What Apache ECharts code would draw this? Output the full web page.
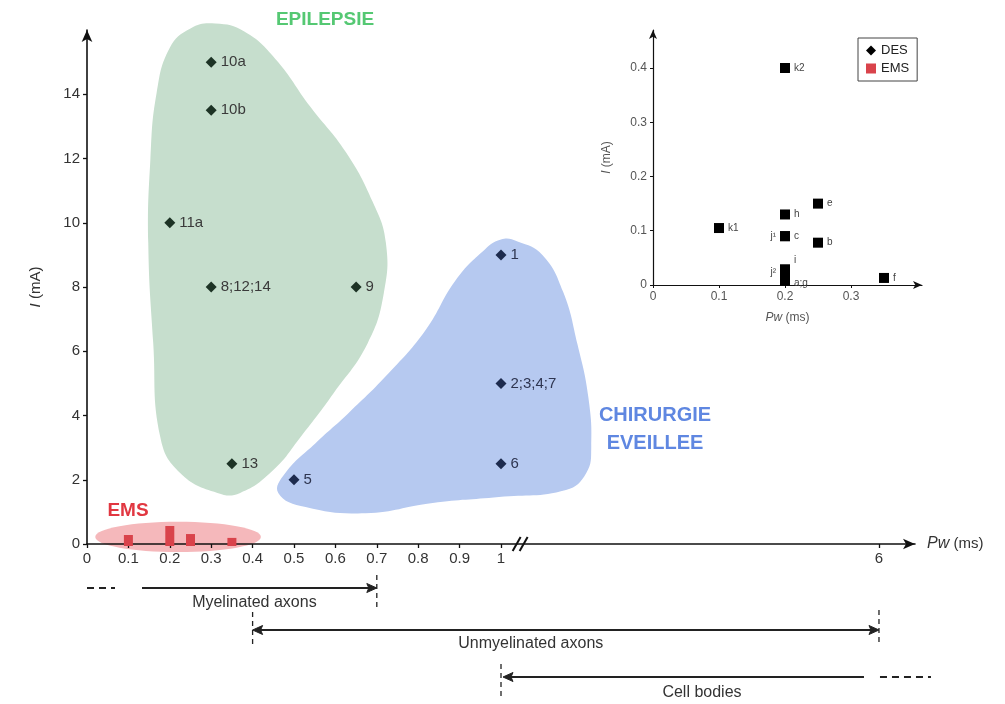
<!DOCTYPE html>
<html>
<head>
<meta charset="utf-8">
<script src="https://cdn.jsdelivr.net/npm/echarts@6/dist/echarts.min.js"></script>
<style>
  html, body { margin: 0; background: #fff; }
  #main { width: 1005px; height: 704px; }
</style>
</head>
<body>
<div id="main"></div>
<script>
// --- Data ---

// main plot: Pw (ms) vs I (mA)
const epiNames = ['10a', '10b', '11a', '8;12;14', '9', '13'];
const epiPw = [0.3, 0.3, 0.2, 0.3, 0.65, 0.35];
const epiI = [15, 13.5, 10, 8, 8, 2.5];

const chirNames = ['1', '2;3;4;7', '6', '5'];
const chirPw = [1, 1, 1, 0.5];
const chirI = [9, 5, 2.5, 2];

const emsPw = [0.1, 0.2, 0.25, 0.35];
const emsI = [0.28, 0.56, 0.31, 0.19];

const xTicks = [0, 0.1, 0.2, 0.3, 0.4, 0.5, 0.6, 0.7, 0.8, 0.9, 1, 6];
const yTicks = [0, 2, 4, 6, 8, 10, 12, 14];

// region outlines, [axis x, I] (axis x is Pw up to 1, compressed after the break)
const epiOutline = [[0.31, 16.2], [0.38, 15.95], [0.455, 15.1], [0.54, 13.6], [0.625, 12.2],
  [0.69, 10.65], [0.722, 9.37], [0.717, 7.81], [0.678, 6.25], [0.596, 4.7], [0.516, 3.33],
  [0.45, 2.3], [0.37, 1.59], [0.315, 1.59], [0.225, 2.21], [0.177, 3.33], [0.16, 6.25],
  [0.148, 9.37], [0.153, 11.95], [0.168, 14.03], [0.2, 15.45], [0.25, 16.05]];
const chirOutline = [[1.04, 9.42], [1.1, 9.0], [1.15, 7.85], [1.185, 6.2], [1.211, 4.57],
  [1.218, 3.02], [1.206, 2.21], [1.157, 1.68], [0.995, 1.46], [0.835, 1.28], [0.673, 0.96],
  [0.528, 1.15], [0.462, 1.59], [0.479, 2.21], [0.552, 3.14], [0.632, 4.08], [0.729, 5.32],
  [0.818, 6.66], [0.89, 8.2], [0.955, 9.1], [1.0, 9.48]];
const emsArea = [0.22, 0.22, 0.2, 0.47]; // centre x, centre I, half width, half height

// ranges under the axis
const rangeNames = ['Myelinated axons', 'Unmyelinated axons', 'Cell bodies'];
const rangeFrom = [0, 0.4, 1];
const rangeTo = [0.7, 6, 6];

// inset
const insetNames = ['k2', 'k1', 'h', 'e', 'c', 'j¹', 'b', 'f', 'i', 'j²', 'a;g'];
const insetPw = [0.2, 0.1, 0.2, 0.25, 0.2, 0.2, 0.25, 0.35, 0.2, 0.2, 0.2];
const insetI = [0.4, 0.105, 0.13, 0.15, 0.09, 0.09, 0.078, 0.013, 0.029, 0.019, 0.008];
const insetXTicks = [0, 0.1, 0.2, 0.3];
const insetYTicks = [0, 0.1, 0.2, 0.3, 0.4];

// --- Scale helpers (broken x axis: 1 -> 6 ms squeezed) ---

const BREAK_SCALE = 0.913 / 5;
const toAxis = pw => pw <= 1 ? pw : 1 + (pw - 1) * BREAK_SCALE;
const fromAxis = v => v <= 1.0001 ? v : 1 + (v - 1) / BREAK_SCALE;
const breakAt = 1.045;

const FONT = '"Liberation Sans", Arial, sans-serif';
const INK = '#222';

// --- Render helpers ---

function blobSeries(outline, fill) {
    return {
        type: 'custom', silent: true, z: 1, clip: false,
        data: [[outline[0][0], outline[0][1]]],
        renderItem: (params, api) => ({
            type: 'polygon',
            shape: { points: outline.map(p => api.coord(p)), smooth: 0.45 },
            style: { fill },
        }),
    };
}

function hline(xa, xb, y, dashed) {
    return { type: 'line', shape: { x1: xa, y1: y, x2: xb, y2: y },
        style: { stroke: INK, lineWidth: 2, lineDash: dashed ? [7, 5] : null } };
}
function vmark(x, ya, yb) {
    return { type: 'line', shape: { x1: x, y1: ya, x2: x, y2: yb },
        style: { stroke: INK, lineWidth: 1.3, lineDash: [5, 4] } };
}
function head(x, y, dir) {
    return { type: 'polygon', shape: { points: [[x, y], [x - 10 * dir, y - 4.5], [x - 8 * dir, y], [x - 10 * dir, y + 4.5]] },
        style: { fill: INK, stroke: INK, lineWidth: 1 } };
}
function label(text, x, y) {
    return { type: 'text', style: { text, x, y, align: 'center', verticalAlign: 'middle',
        fontSize: 16, fontFamily: FONT, fill: '#333' } };
}

// pixel offsets below the axis for each range row
const rowLine = [44, 86, 133];
const rowText = [59, 100, 149];
const rowLabelShift = [-5, -35, 12];

function renderRange(params, api) {
    const i = params.dataIndex;
    const [x0, y0] = api.coord([toAxis(rangeFrom[i]), 0]);
    const [x1] = api.coord([toAxis(rangeTo[i]), 0]);
    const y = y0 + rowLine[i];
    const kids = [];
    if (i === 0) {
        kids.push(hline(x0, x0 + 28, y, true), hline(x0 + 55, x1 - 6, y), head(x1, y, 1),
            vmark(x1, y - 13, y + 19));
    } else if (i === 1) {
        kids.push(hline(x0 + 6, x1 - 6, y), head(x0, y, -1), head(x1, y, 1),
            vmark(x0, y - 18, y + 15), vmark(x1, y - 20, y + 13));
    } else {
        kids.push(hline(x0 + 8, x1 - 15, y), head(x0 + 2, y, -1), hline(x1 + 1, x1 + 52, y, true),
            vmark(x0, y - 13, y + 19));
    }
    const xs = i === 0 ? x0 + 55 : x0;
    kids.push(label(rangeNames[i], (xs + x1) / 2 + rowLabelShift[i], y0 + rowText[i]));
    return { type: 'group', children: kids };
}

const chart = echarts.init(document.getElementById('main'), null, { renderer: 'canvas' });

const axisLineStyle = { color: '#111', width: 1.6 };
const insetLabelPos = {
    'j¹': { position: 'left' },
    'j²': { position: 'left', offset: [0, -2] },
    'i': { offset: [0, -9] },
    'a;g': { offset: [0, 3] },
};

chart.setOption({
    animation: false,
    textStyle: { fontFamily: FONT },
    grid: [
        { left: 87, top: 30, right: 90, bottom: 160 },
        { left: 653, top: 30, right: 83, bottom: 419 },
    ],
    xAxis: [{
        type: 'value', min: 0, max: 2, z: 3,
        splitLine: { show: false },
        axisLine: { onZero: false, symbol: ['none', 'arrow'], symbolSize: [8, 12], lineStyle: axisLineStyle },
        axisTick: { customValues: xTicks.map(toAxis), length: 4, lineStyle: { color: '#111', width: 1.3 } },
        axisLabel: {
            customValues: xTicks.map(toAxis), fontSize: 15, color: '#333', margin: 7,
            formatter: v => String(+fromAxis(v).toFixed(1)),
        },
        name: '{it|Pw} (ms)', nameLocation: 'end', nameGap: 12,
        nameTextStyle: { fontSize: 15, color: '#333', rich: { it: { fontStyle: 'italic', fontSize: 16, color: '#333' } } },
    }, {
        type: 'value', gridIndex: 1, min: 0, max: 0.4076, z: 3,
        splitLine: { show: false },
        axisLine: { onZero: false, symbol: ['none', 'arrow'], symbolSize: [6, 9], lineStyle: { color: '#111', width: 1.2 } },
        axisTick: { customValues: insetXTicks, length: 3, lineStyle: { color: '#111' } },
        axisLabel: { customValues: insetXTicks, fontSize: 12, color: '#555', margin: 6 },
        name: '{it|Pw} (ms)', nameLocation: 'middle', nameGap: 27,
        nameTextStyle: { fontSize: 12, color: '#555', rich: { it: { fontStyle: 'italic', fontSize: 12, color: '#555' } } },
    }],
    yAxis: [{
        type: 'value', min: 0, max: 16, z: 3,
        splitLine: { show: false },
        axisLine: { onZero: false, symbol: ['none', 'arrow'], symbolSize: [8, 12], lineStyle: axisLineStyle },
        axisTick: { customValues: yTicks, length: 4, lineStyle: { color: '#111', width: 1.3 } },
        axisLabel: { customValues: yTicks, fontSize: 15, color: '#333', margin: 7 },
        name: '{it|I} (mA)', nameLocation: 'middle', nameGap: 44, nameRotate: 90,
        nameTextStyle: { fontSize: 15, color: '#333', rich: { it: { fontStyle: 'italic', fontSize: 15, color: '#333' } } },
    }, {
        type: 'value', gridIndex: 1, min: 0, max: 0.47, z: 3,
        splitLine: { show: false },
        axisLine: { onZero: false, symbol: ['none', 'arrow'], symbolSize: [6, 9], lineStyle: { color: '#111', width: 1.2 } },
        axisTick: { customValues: insetYTicks, length: 3, lineStyle: { color: '#111' } },
        axisLabel: { customValues: insetYTicks, fontSize: 12, color: '#555', margin: 6 },
        name: '{it|I} (mA)', nameLocation: 'middle', nameGap: 40, nameRotate: 90,
        nameTextStyle: { fontSize: 12, color: '#555', rich: { it: { fontStyle: 'italic', fontSize: 12, color: '#555' } } },
    }],
    legend: {
        orient: 'vertical', left: 858, top: 38, selectedMode: false,
        borderColor: '#444', borderWidth: 1, borderRadius: 0, padding: [6, 8, 6, 8],
        itemGap: 5, itemWidth: 10, itemHeight: 10,
        textStyle: { fontSize: 13, color: '#222' },
        data: [
            { name: 'DES', icon: 'diamond', itemStyle: { color: '#000' } },
            { name: 'EMS', icon: 'rect', itemStyle: { color: '#d9434b' } },
        ],
    },
    graphic: [
        { type: 'text', x: 325, y: 20, z: 10, style: { text: 'EPILEPSIE', fill: '#55c873',
            font: `bold 19px ${FONT}`, textAlign: 'center', textVerticalAlign: 'middle' } },
        { type: 'text', x: 655, y: 415, z: 10, style: { text: 'CHIRURGIE', fill: '#5f87e1',
            font: `bold 20px ${FONT}`, textAlign: 'center', textVerticalAlign: 'middle' } },
        { type: 'text', x: 655, y: 443, z: 10, style: { text: 'EVEILLEE', fill: '#5f87e1',
            font: `bold 20px ${FONT}`, textAlign: 'center', textVerticalAlign: 'middle' } },
        { type: 'text', x: 128, y: 511, z: 10, style: { text: 'EMS', fill: '#e13741',
            font: `bold 19px ${FONT}`, textAlign: 'center', textVerticalAlign: 'middle' } },
    ],
    series: [
        blobSeries(epiOutline, '#c6decd'),
        blobSeries(chirOutline, '#b6c9f0'),
        {
            type: 'custom', silent: true, z: 1, clip: false,
            data: [[emsArea[0], emsArea[1]]],
            renderItem: (params, api) => {
                const [cx, cy] = api.coord([emsArea[0], emsArea[1]]);
                const [rx, ry] = api.size([emsArea[2], emsArea[3]]);
                return { type: 'ellipse', shape: { cx, cy, rx, ry }, style: { fill: '#f5b8bb' } };
            },
        },
        {
            name: 'DES', type: 'scatter', z: 5, symbol: 'diamond', symbolSize: 11,
            itemStyle: { color: '#1d3325', opacity: 1 },
            label: { show: true, position: 'right', distance: 4, formatter: '{b}', fontSize: 15, color: '#3a3a3a' },
            data: epiNames.map((n, i) => ({ name: n, value: [toAxis(epiPw[i]), epiI[i]] })),
        },
        {
            name: 'DES-chir', type: 'scatter', z: 5, symbol: 'diamond', symbolSize: 11,
            itemStyle: { color: '#1d2b4e', opacity: 1 },
            label: { show: true, position: 'right', distance: 4, formatter: '{b}', fontSize: 15, color: '#2e3550' },
            data: chirNames.map((n, i) => ({ name: n, value: [toAxis(chirPw[i]), chirI[i]] })),
        },
        {
            name: 'EMS', type: 'custom', z: 5, clip: false, itemStyle: { color: '#d9434b' },
            data: emsPw.map((p, i) => [toAxis(p), emsI[i]]),
            renderItem: (params, api) => {
                const top = api.coord([api.value(0), api.value(1)]);
                const bot = api.coord([api.value(0), 0]);
                return { type: 'rect', shape: { x: top[0] - 4.5, y: top[1], width: 9, height: bot[1] - top[1] + 2 },
                    style: { fill: '#d9434b' } };
            },
        },
        {
            type: 'custom', silent: true, z: 5, clip: false,
            data: rangeNames.map((n, i) => [toAxis(rangeFrom[i]), 0]),
            renderItem: renderRange,
        },
        {
            type: 'custom', silent: true, z: 6, clip: false,
            data: [[breakAt, 0]],
            renderItem: (params, api) => {
                const [x, y] = api.coord([breakAt, 0]);
                const slash = dx => ({ type: 'line', shape: { x1: x + dx - 4, y1: y + 7, x2: x + dx + 4, y2: y - 7 },
                    style: { stroke: '#111', lineWidth: 2 } });
                return { type: 'group', children: [slash(-3), slash(4)] };
            },
        },
        {
            name: 'inset', type: 'scatter', xAxisIndex: 1, yAxisIndex: 1, z: 5,
            symbol: 'rect', symbolSize: 10, itemStyle: { color: '#000', opacity: 1 },
            label: { show: true, position: 'right', distance: 4, formatter: '{b}', fontSize: 10, color: '#444' },
            data: insetNames.map((n, i) => ({
                name: n, value: [insetPw[i], insetI[i]],
                label: insetLabelPos[n] ?? {},
            })),
        },
    ],
});
</script>
</body>
</html>
